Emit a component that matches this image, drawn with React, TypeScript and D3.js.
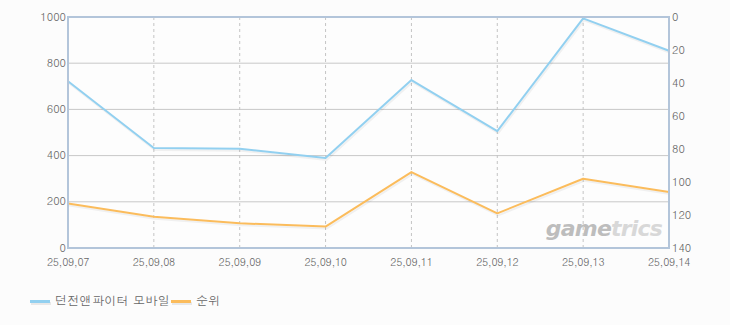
import React from "react";
import * as d3 from "d3";

const categories = ["25,09,07", "25,09,08", "25,09,09", "25,09,10", "25,09,11", "25,09,12", "25,09,13", "25,09,14"];
const usersSeries = [722, 433, 430, 390, 727, 506, 994, 854];
const rankSeries = [113, 121, 125, 127, 94, 119, 98, 106];
const leftTicks = [0, 200, 400, 600, 800, 1000];
const rightTicks = [0, 20, 40, 60, 80, 100, 120, 140];
const seriesNames = ["던전앤파이터 모바일", "순위"];

const W = 730, H = 325;
const L = 68, R = 669, T = 17, B = 248;
const BLUE = "#92d0f0";
const ORANGE = "#fbbc5c";
const TEXT = "#666";
const FONT = "Dotum, 'Noto Sans CJK KR', 'DejaVu Sans', sans-serif";

export default function App() {
  const x = d3.scalePoint<string>().domain(categories).range([L, R]);
  const yL = d3.scaleLinear().domain([0, 1000]).range([B, T]);
  const yR = d3.scaleLinear().domain([0, 140]).range([T, B]);
  const lineL = d3.line<number>().x((_, i) => x(categories[i])!).y(d => yL(d));
  const lineR = d3.line<number>().x((_, i) => x(categories[i])!).y(d => yR(d));

  return (
    <svg width={W} height={H} style={{ position: "fixed", left: 0, top: 0, background: "#fcfcfc" }} fontFamily={FONT}>
      <rect x={0} y={0} width={W} height={H} fill="#fcfcfc" />
      <rect x={L} y={T} width={R - L} height={B - T} fill="#fdfdfd" />
      {leftTicks.slice(1, -1).map(t => (
        <line key={"h" + t} x1={L} x2={R} y1={yL(t)} y2={yL(t)} stroke="#c8c8c8" strokeWidth={1} />
      ))}
      {categories.slice(1, -1).map(c => (
        <line key={"v" + c} x1={x(c)} x2={x(c)} y1={T} y2={B} stroke="#c4c4c4" strokeWidth={1} strokeDasharray="3,3" />
      ))}
      <g fill="none" strokeWidth={2} strokeLinejoin="round">
        <path d={lineL(usersSeries)!} stroke="#000" strokeOpacity={0.05} transform="translate(1,2)" />
        <path d={lineR(rankSeries)!} stroke="#000" strokeOpacity={0.05} transform="translate(1,2)" />
        <path d={lineL(usersSeries)!} stroke={BLUE} />
        <path d={lineR(rankSeries)!} stroke={ORANGE} />
      </g>
      <text x={604} y={236} textAnchor="middle" fontFamily="'DejaVu Sans', sans-serif" fontStyle="italic" fontWeight="bold" fontSize={22} fill="#bdbdbd" letterSpacing={-0.8}>
        game<tspan fill="#d8d8d8">trics</tspan>
      </text>
      <rect x={L} y={T} width={R - L} height={B - T} fill="none" stroke="#b3c5da" strokeWidth={2} />
      {leftTicks.map(t => (
        <text key={"l" + t} x={L - 2} y={yL(t) + 3.5} textAnchor="end" fontSize={11} fill={TEXT}>{t}</text>
      ))}
      {rightTicks.map(t => (
        <text key={"r" + t} x={R + 3} y={yR(t) + 3.5} textAnchor="start" fontSize={11} fill={TEXT}>{t}</text>
      ))}
      {categories.map(c => (
        <text key={"x" + c} x={x(c)} y={266} textAnchor="middle" fontSize={10.5} letterSpacing={-0.3} fill={TEXT}>{c}</text>
      ))}
      <g>
        <rect x={30} y={301} width={20} height={3} fill="#000" fillOpacity={0.08} transform="translate(1,1)" />
        <rect x={30} y={300} width={20} height={3} fill={BLUE} />
        <text x={55} y={305} fontSize={12} letterSpacing={0.3} fill={TEXT}>{seriesNames[0]}</text>
        <rect x={171} y={301} width={20} height={3} fill="#000" fillOpacity={0.08} transform="translate(1,1)" />
        <rect x={171} y={300} width={20} height={3} fill={ORANGE} />
        <text x={196} y={305} fontSize={12} letterSpacing={0.3} fill={TEXT}>{seriesNames[1]}</text>
      </g>
    </svg>
  );
}
